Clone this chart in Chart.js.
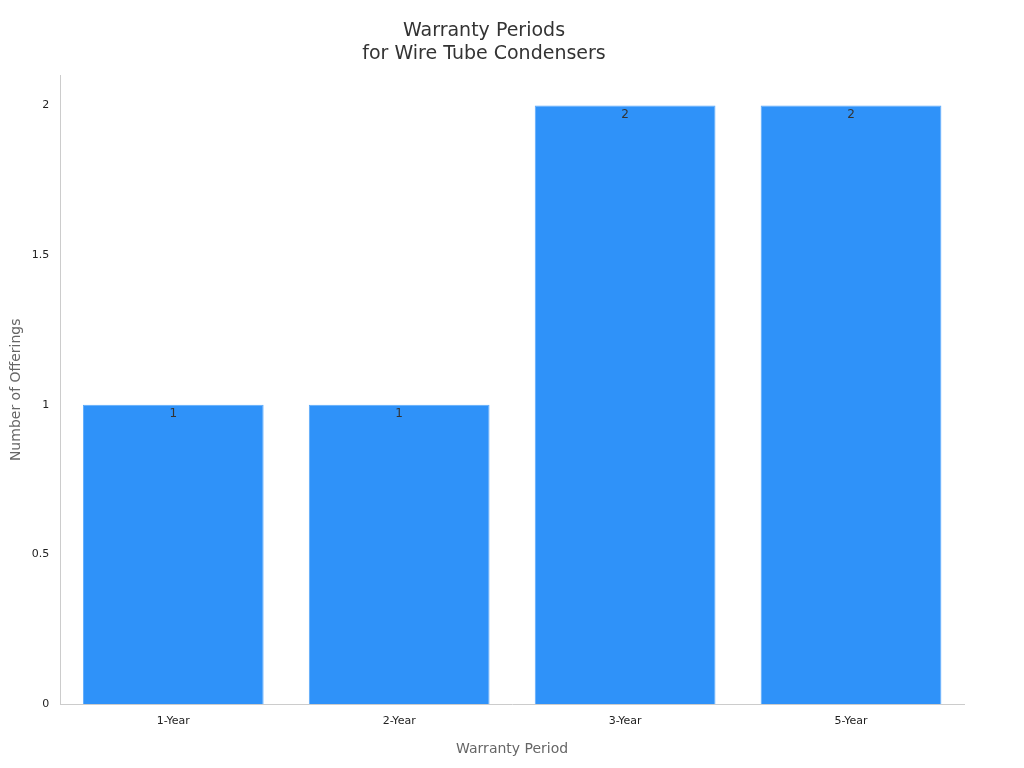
<!DOCTYPE html>
<html><head><meta charset="utf-8">
<script src="https://cdn.jsdelivr.net/npm/chart.js"></script>
<style>html,body{margin:0;background:#fff}#w{width:1024px;height:768px}</style>
</head><body><div id="w"><canvas id="c"></canvas></div>
<script>
const categories = ["1-Year","2-Year","3-Year","5-Year"];
const offerings = [1,1,2,2];
const yTicks = [0,0.5,1,1.5,2];

const labelPlugin = {
  id:'lbl',
  afterDatasetsDraw(chart){
    const ctx = chart.ctx;
    const meta = chart.getDatasetMeta(0);
    ctx.save();
    ctx.font = '12px "DejaVu Sans"';
    ctx.fillStyle = '#333';
    ctx.textAlign = 'center';
    ctx.textBaseline = 'top';
    meta.data.forEach((el,i)=>{ ctx.fillText(String(offerings[i]), el.x, el.y+3); });
    ctx.restore();
  }
};

new Chart(document.getElementById('c'), {
  type:'bar',
  data:{labels:categories, datasets:[{data:offerings, backgroundColor:'#2f92f9', borderColor:'#5aa9fb', borderWidth:1, barPercentage:0.8, categoryPercentage:1}]},
  options:{
    responsive:true, maintainAspectRatio:false, animation:false,
    layout:{padding:{left:4,right:60,top:10,bottom:6}},
    plugins:{
      legend:{display:false}, tooltip:{enabled:false},
      title:{display:true, text:['Warranty Periods','for Wire Tube Condensers'], color:'#333', font:{family:'DejaVu Sans', size:19, weight:'normal'}, padding:{top:10,bottom:10}, lineHeight:1.3}
    },
    scales:{
      x:{grid:{display:false, drawTicks:true}, border:{color:'#ccc'}, ticks:{color:'#222', font:{family:'DejaVu Sans', size:11}},
         title:{display:true, text:'Warranty Period', color:'#666', font:{family:'DejaVu Sans', size:14}, padding:{top:10}}},
      y:{min:0, max:2.1, grid:{display:false}, border:{color:'#ccc'},
         afterBuildTicks(s){ s.ticks = yTicks.map(v=>({value:v})); },
         ticks:{color:'#222', font:{family:'DejaVu Sans', size:11}, callback:v=>String(v)},
         title:{display:true, text:'Number of Offerings', color:'#666', font:{family:'DejaVu Sans', size:14}}}
    }
  },
  plugins:[labelPlugin]
});
</script></body></html>
